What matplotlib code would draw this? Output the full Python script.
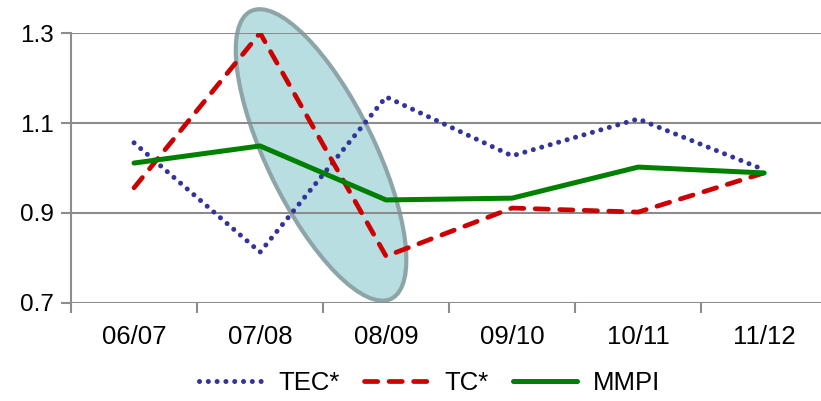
import matplotlib
matplotlib.use('Agg')
import matplotlib.pyplot as plt
from matplotlib.patches import Ellipse
from matplotlib.transforms import ScaledTranslation

plt.rcParams['font.family'] = ['Liberation Sans', 'DejaVu Sans']

seasons = ['06/07', '07/08', '08/09', '09/10', '10/11', '11/12']
tec = [1.056, 0.813, 1.158, 1.027, 1.109, 0.996]
tc = [0.956, 1.300, 0.804, 0.911, 0.902, 0.989]
mmpi = [1.011, 1.049, 0.929, 0.933, 1.002, 0.989]
y_ticks = [0.7, 0.9, 1.1, 1.3]

# highlight ellipse (centre in data coords, size in inches)
ell_center = (1.484, 1.029)
ell_size = (3.20, 1.08)
ell_angle = -64

fig = plt.figure(figsize=(8.21, 4.01), dpi=100)
ax = fig.add_axes([0.0865, 0.2444, 0.921, 0.6733])

x = list(range(len(seasons)))
ax.set_xlim(-0.5, 5.5)
ax.set_ylim(0.7, 1.3)

grid_c = '#8c8c8c'
for v in y_ticks:
    ax.axhline(v, color=grid_c, lw=1.5, zorder=3)

ell = Ellipse((0, 0), ell_size[0], ell_size[1], angle=ell_angle,
              facecolor=(0.45, 0.75, 0.78, 0.5), edgecolor='#8ea5a8', lw=3,
              transform=fig.dpi_scale_trans + ScaledTranslation(ell_center[0], ell_center[1], ax.transData),
              zorder=2, clip_on=False)
ax.add_patch(ell)

ax.plot(x, tec, color='#333399', lw=3.6, linestyle=(0, (0.01, 1.75)),
        dash_capstyle='round', label='TEC*', zorder=5)
ax.plot(x, tc, color='#cc0000', lw=3.4, linestyle=(0, (2.8, 2.4)),
        dash_capstyle='round', label='TC*', zorder=5)
ax.plot(x, mmpi, color='#008000', lw=3.6, solid_capstyle='round', label='MMPI', zorder=5)

for s in ['top', 'right', 'bottom']:
    ax.spines[s].set_visible(False)
ax.spines['left'].set_color(grid_c)
ax.spines['left'].set_linewidth(1.5)

ax.set_yticks(y_ticks)
ax.set_yticklabels(['%.1f' % v for v in y_ticks])
ax.set_xticks(x)
ax.set_xticklabels(seasons)
ax.set_xticks([i - 0.5 for i in range(len(seasons) + 1)], minor=True)
ax.tick_params(axis='x', which='major', length=0, pad=16, labelsize=18.5)
ax.tick_params(axis='x', which='minor', length=7, width=1.5, color=grid_c)
ax.tick_params(axis='y', length=7, width=1.5, color=grid_c, pad=5, labelsize=17.5)

fig.legend(loc='center', bbox_to_anchor=(0.523, 0.045), ncol=3, frameon=False,
           fontsize=18.5, handlelength=2.5, columnspacing=0.95, handletextpad=0.6)

fig.savefig('out.png', dpi=100)
